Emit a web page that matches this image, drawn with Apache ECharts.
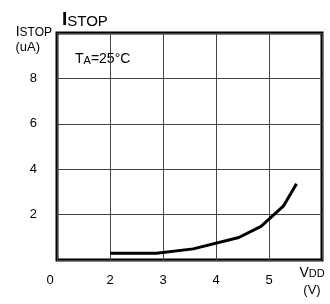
<!DOCTYPE html>
<html>
<head>
<meta charset="utf-8">
<script src="https://cdn.jsdelivr.net/npm/echarts@6/dist/echarts.min.js"></script>
<style>
  html, body { margin: 0; padding: 0; background: #fff; }
  #chart { width: 330px; height: 304px; }
</style>
</head>
<body>
<div id="chart"></div>
<script>
// supply voltage (V) and stop current (uA)
const vdd = [2.0, 2.88, 3.57, 4.43, 4.85, 5.27, 5.52]
const istop = [0.3, 0.3, 0.49, 0.99, 1.48, 2.37, 3.36]
const xTicks = { 1: '0', 2: '2', 3: '3', 4: '4', 5: '5' }
const yTicks = [2, 4, 6, 8]

const font = 'Liberation Sans, Arial, sans-serif'
const chart = echarts.init(document.getElementById('chart'), null, { renderer: 'canvas' })

chart.setOption({
  backgroundColor: '#fff',
  animation: false,
  title: {
    left: 57, top: 5,
    text: '{i|I}{s|STOP}',
    textStyle: {
      fontWeight: 'normal',
      rich: {
        i: { fontFamily: font, fontSize: 19, fontWeight: 'bold', color: '#000' },
        s: { fontFamily: font, fontSize: 15, fontWeight: 'normal', color: '#000', verticalAlign: 'bottom' },
      },
    },
  },
  graphic: [{
    type: 'text',
    left: 75, top: 52,
    style: {
      text: '{t|T}{a|A}{t|=25°C}',
      rich: {
        t: { fontFamily: font, fontSize: 14, fill: '#000' },
        a: { fontFamily: font, fontSize: 11, fill: '#000', padding: [4, 0, 0, 0] },
      },
    },
  }],
  grid: {
    left: 57, right: 8, top: 33, bottom: 44,
    show: true, borderColor: '#000', borderWidth: 3,
  },
  xAxis: {
    type: 'value', min: 1, max: 6, interval: 1,
    axisLine: { show: false },
    axisTick: { show: false },
    splitLine: { lineStyle: { color: '#444', width: 1 } },
    axisLabel: {
      margin: 14,
      fontFamily: font, fontSize: 13, color: '#000',
      formatter: v => (v === 1 ? '{z|0}' : (xTicks[v] || '')),
      rich: { z: { fontFamily: font, fontSize: 13, color: '#000', padding: [0, 14, 6, 0] } },
    },
    name: '{v|V}{d|DD}\n{u|(V)}',
    nameLocation: 'end', nameGap: -10,
    nameTextStyle: {
      align: 'center', verticalAlign: 'top', padding: [5, 0, 0, 0],
      rich: {
        v: { fontFamily: font, fontSize: 14, color: '#000', lineHeight: 17 },
        d: { fontFamily: font, fontSize: 11, color: '#000', lineHeight: 17 },
        u: { fontFamily: font, fontSize: 13, color: '#000', lineHeight: 17 },
      },
    },
  },
  yAxis: {
    type: 'value', min: 0, max: 10, interval: 2,
    axisLine: { show: false },
    axisTick: { show: false },
    splitLine: { lineStyle: { color: '#444', width: 1 } },
    axisLabel: {
      margin: 20,
      fontFamily: font, fontSize: 13, color: '#000',
      formatter: v => (yTicks.includes(v) ? String(v) : ''),
    },
    name: '{i|I}{s|STOP}\n{u|(uA)}',
    nameLocation: 'end', nameGap: 0,
    nameTextStyle: {
      align: 'right', verticalAlign: 'top', padding: [-8, 5, 0, 0],
      rich: {
        i: { fontFamily: font, fontSize: 14, color: '#000', lineHeight: 15 },
        s: { fontFamily: font, fontSize: 12, color: '#000', lineHeight: 15 },
        u: { fontFamily: font, fontSize: 13, color: '#000', lineHeight: 15, padding: [0, 12, 0, 0] },
      },
    },
  },
  series: [{
    type: 'line',
    data: vdd.map((v, i) => [v, istop[i]]),
    symbol: 'none',
    smooth: false,
    lineStyle: { color: '#000', width: 3 },
  }],
})
</script>
</body>
</html>
